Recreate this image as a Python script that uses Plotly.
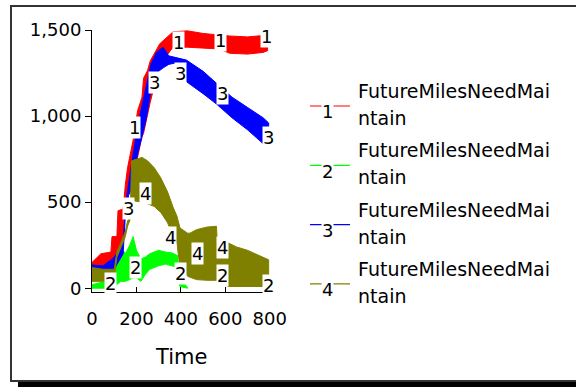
import plotly.graph_objects as go

# ---------------- data ----------------
red_t    = [0, 40, 85, 90, 112, 117, 140, 145, 150, 160, 170, 185, 205, 225, 232, 250, 262, 305, 365, 430, 500, 570, 620, 700, 770, 790]
red_high = [150, 200, 210, 300, 300, 450, 460, 560, 600, 700, 770, 860, 1030, 1110, 1220, 1265, 1320, 1420, 1490, 1495, 1480, 1470, 1465, 1460, 1470, 1470]
red_low  = [90, 120, 130, 150, 180, 200, 280, 500, 520, 540, 550, 600, 760, 880, 900, 1010, 1080, 1300, 1400, 1400, 1395, 1390, 1365, 1360, 1370, 1380]

green_t    = [0, 30, 60, 90, 110, 130, 150, 170, 185, 200, 220, 240, 260, 280, 300, 330, 360, 385, 395, 430]
green_high = [20, 30, 40, 60, 150, 240, 200, 250, 300, 220, 170, 180, 200, 210, 220, 210, 205, 190, 60, 4]
green_low  = [0, 0, 0, 10, 20, 40, 40, 50, 60, 60, 40, 80, 110, 120, 130, 140, 130, 120, 10, 0]

blue_t    = [0, 50, 100, 140, 150, 165, 185, 205, 225, 245, 265, 290, 320, 345, 380, 425, 500, 560, 630, 700, 770, 795]
blue_high = [135, 130, 180, 260, 480, 620, 780, 940, 1060, 1200, 1300, 1370, 1400, 1350, 1340, 1325, 1260, 1190, 1110, 1050, 990, 960]
blue_low  = [80, 85, 110, 200, 420, 540, 620, 780, 880, 990, 1150, 1250, 1280, 1300, 1310, 1200, 1130, 1070, 990, 920, 840, 830]

olive_t    = [0, 50, 100, 112, 125, 150, 160, 172, 178, 225, 250, 280, 310, 340, 365, 382, 396, 430, 441, 470, 517, 560, 565, 600, 610, 650, 700, 750, 795]
olive_high = [120, 110, 110, 210, 250, 330, 390, 420, 740, 760, 740, 700, 640, 560, 470, 420, 350, 320, 320, 340, 355, 360, 240, 220, 265, 240, 220, 190, 165]
olive_low  = [40, 40, 50, 180, 220, 300, 360, 400, 510, 500, 490, 475, 440, 380, 300, 261, 122, 70, 64, 50, 46, 46, 46, 40, 10, 10, 10, 10, 10]

# series label positions (time, value)
lab1_t = [193, 390, 580, 787]
lab1_v = [935, 1430, 1440, 1465]
lab2_t = [81, 194, 396, 589, 792]
lab2_v = [29, 122, 87, 75, 17]
lab3_t = [162, 279, 396, 589, 792]
lab3_v = [464, 1195, 1247, 1131, 876]
lab4_t = [239, 351, 473, 589, 801]
lab4_v = [551, 296, 203, 238, -23]

x_ticks = [0, 200, 400, 600, 800]
y_ticks = [0, 500, 1000, 1500]
series_name = "FutureMilesNeedMaintain"
legend_line1 = "FutureMilesNeedMai"
legend_line2 = "ntain"

# ---------------- styling ----------------
FONT = "DejaVu Sans"
colors = ["#FF0000", "#00FF00", "#0000FF", "#808000"]
W_PX, H_PX = 576, 387
L, T, PW, PH = 92, 30, 180, 262


def px(x):
    return (x - L) / PW


def py(y):
    return (T + PH - y) / PH


series = [
    (red_t, red_low, red_high, lab1_t, lab1_v, "1"),
    (green_t, green_low, green_high, lab2_t, lab2_v, "2"),
    (blue_t, blue_low, blue_high, lab3_t, lab3_v, "3"),
    (olive_t, olive_low, olive_high, lab4_t, lab4_v, "4"),
]

fig = go.Figure()
annotations = []
for (t, lo, hi, lt, lv, num), col in zip(series, colors):
    fig.add_trace(go.Scatter(
        x=list(t) + list(t)[::-1],
        y=list(hi) + list(lo)[::-1],
        fill="toself", fillcolor=col, mode="lines",
        line=dict(color=col, width=1), name=series_name + " " + num,
        hoverinfo="skip", showlegend=False))
    for a, b in zip(lt, lv):
        annotations.append(dict(x=a, y=b, xref="x", yref="y", text=num, showarrow=False,
                                bgcolor="white", borderpad=0,
                                font=dict(family=FONT, size=18, color="black")))

shapes = []
# outer frame with shadow
shapes.append(dict(type="rect", xref="paper", yref="paper", x0=px(18), x1=px(620), y0=py(382), y1=py(400),
                   fillcolor="black", line=dict(width=0), layer="below"))
shapes.append(dict(type="rect", xref="paper", yref="paper", x0=px(11), x1=px(620), y0=py(381), y1=py(6),
                   line=dict(color="#333333", width=2), fillcolor="rgba(0,0,0,0)", layer="below"))

# legend
for k, col in enumerate(colors):
    yc = 91 + 59.3 * k
    shapes.append(dict(type="line", xref="paper", yref="paper", x0=px(310), x1=px(350),
                       y0=py(yc + 15), y1=py(yc + 15), line=dict(color=col, width=1.2)))
    annotations.append(dict(x=px(327.5), y=py(yc + 21), xref="paper", yref="paper", text=str(k + 1),
                            showarrow=False, bgcolor="white", borderpad=0, xanchor="center", yanchor="middle",
                            font=dict(family=FONT, size=18, color="black")))
    annotations.append(dict(x=px(356), y=py(yc), xref="paper", yref="paper", text=legend_line1,
                            showarrow=False, xanchor="left", yanchor="middle",
                            font=dict(family=FONT, size=19, color="black")))
    annotations.append(dict(x=px(356), y=py(yc + 27), xref="paper", yref="paper", text=legend_line2,
                            showarrow=False, xanchor="left", yanchor="middle",
                            font=dict(family=FONT, size=19, color="black")))

annotations.append(dict(x=px(181), y=py(357), xref="paper", yref="paper", text="Time", showarrow=False,
                        xanchor="center", yanchor="middle", font=dict(family=FONT, size=21, color="black")))

fig.update_layout(
    width=W_PX, height=H_PX,
    margin=dict(l=L, r=W_PX - L - PW, t=T, b=H_PX - T - PH, pad=0),
    paper_bgcolor="white", plot_bgcolor="white",
    font=dict(family=FONT, size=18, color="black"),
    showlegend=False,
    shapes=shapes, annotations=annotations,
    xaxis=dict(range=[0, 810], tickvals=x_ticks, ticks="inside", ticklen=5, tickcolor="black",
               showline=True, linecolor="black", linewidth=1, showgrid=False, zeroline=False,
               ticklabelstandoff=10, tickfont=dict(family=FONT, size=18, color="black")),
    yaxis=dict(range=[-22, 1500], tickvals=y_ticks, tickformat=",", ticks="outside", ticklen=6,
               tickcolor="black", showline=True, linecolor="black", linewidth=1, showgrid=False,
               zeroline=False, tickfont=dict(family=FONT, size=18, color="black")),
)

fig.write_html("out.html", config={"displayModeBar": False},
               post_script="document.body.style.margin='0';document.body.style.overflow='hidden';")
